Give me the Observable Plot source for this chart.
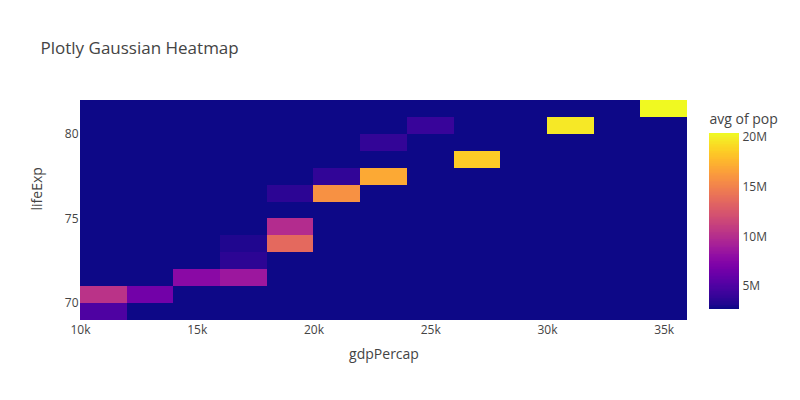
<!DOCTYPE html>
<html>
<head>
<meta charset="utf-8">
<script src="https://cdn.jsdelivr.net/npm/d3@7"></script>
<script src="https://cdn.jsdelivr.net/npm/@observablehq/plot@0.6"></script>
<style>
  body { margin: 0; background: #fff; }
  #wrap { position: relative; width: 800px; height: 400px; font-family: 'Open Sans', sans-serif; }
  #bar { position: absolute; left: 700px; top: 0; }
</style>
</head>
<body>
<div id="wrap"></div>
<script>
// gdpPercap bin edges (14 edges -> 13 bins)
const gdpEdges = [10000, 12000, 14000, 16000, 18000, 20000, 22000, 24000, 26000, 28000, 30000, 32000, 34000, 36000];
// lifeExp bin edges (14 edges -> 13 bins)
const lifeEdges = [69, 70, 71, 72, 73, 74, 75, 76, 77, 78, 79, 80, 81, 82];
// avg of pop (millions); rows = lifeExp bins bottom->top, columns = gdpPercap bins left->right
const avgPopM = [
  [5.0, 2.7, 2.7, 2.7, 2.7, 2.7, 2.7, 2.7, 2.7, 2.7, 2.7, 2.7, 2.7],   // 69-70
  [10.3, 6.6, 2.7, 2.7, 2.7, 2.7, 2.7, 2.7, 2.7, 2.7, 2.7, 2.7, 2.7],  // 70-71
  [2.7, 2.7, 7.7, 8.6, 2.7, 2.7, 2.7, 2.7, 2.7, 2.7, 2.7, 2.7, 2.7],   // 71-72
  [2.7, 2.7, 2.7, 3.6, 2.7, 2.7, 2.7, 2.7, 2.7, 2.7, 2.7, 2.7, 2.7],   // 72-73
  [2.7, 2.7, 2.7, 3.2, 13.6, 2.7, 2.7, 2.7, 2.7, 2.7, 2.7, 2.7, 2.7],  // 73-74
  [2.7, 2.7, 2.7, 2.7, 9.9, 2.7, 2.7, 2.7, 2.7, 2.7, 2.7, 2.7, 2.7],   // 74-75
  [2.7, 2.7, 2.7, 2.7, 2.7, 2.7, 2.7, 2.7, 2.7, 2.7, 2.7, 2.7, 2.7],   // 75-76
  [2.7, 2.7, 2.7, 2.7, 3.6, 15.8, 2.7, 2.7, 2.7, 2.7, 2.7, 2.7, 2.7],  // 76-77
  [2.7, 2.7, 2.7, 2.7, 2.7, 3.8, 17.0, 2.7, 2.7, 2.7, 2.7, 2.7, 2.7],  // 77-78
  [2.7, 2.7, 2.7, 2.7, 2.7, 2.7, 2.7, 2.7, 18.5, 2.7, 2.7, 2.7, 2.7],  // 78-79
  [2.7, 2.7, 2.7, 2.7, 2.7, 2.7, 3.9, 2.7, 2.7, 2.7, 2.7, 2.7, 2.7],   // 79-80
  [2.7, 2.7, 2.7, 2.7, 2.7, 2.7, 2.7, 4.1, 2.7, 2.7, 19.7, 2.7, 2.7],  // 80-81
  [2.7, 2.7, 2.7, 2.7, 2.7, 2.7, 2.7, 2.7, 2.7, 2.7, 2.7, 2.7, 20.4]   // 81-82
];
const xTicks = [10000, 15000, 20000, 25000, 30000, 35000];
const yTicks = [70, 75, 80];
const colorTicks = [5, 10, 15, 20];
const colorDomain = [2.68, 20.4];

const cells = [];
avgPopM.forEach((row, i) => row.forEach((v, j) => {
  cells.push({x1: gdpEdges[j], x2: gdpEdges[j + 1], y1: lifeEdges[i], y2: lifeEdges[i + 1], pop: v});
}));

const ink = "#444";
const chart = Plot.plot({
  width: 800, height: 400,
  marginLeft: 80, marginRight: 113, marginTop: 100, marginBottom: 80,
  style: {fontFamily: "'Open Sans', sans-serif", fontSize: "12px", color: ink, background: "white", overflow: "visible"},
  x: {domain: [gdpEdges[0], gdpEdges[gdpEdges.length - 1]]},
  y: {domain: [lifeEdges[0], lifeEdges[lifeEdges.length - 1]]},
  color: {type: "linear", scheme: "plasma", domain: colorDomain},
  marks: [
    Plot.rect(cells, {x1: "x1", x2: "x2", y1: "y1", y2: "y2", fill: "pop", shapeRendering: "crispEdges"}),
    Plot.axisX({ticks: xTicks, tickFormat: d => d / 1000 + "k", tickSize: 0, tickPadding: 5, label: null, fontSize: 12, fill: ink}),
    Plot.axisY({ticks: yTicks, tickSize: 0, tickPadding: 2, label: null, fontSize: 12, fill: ink}),
    Plot.text(["gdpPercap"], {text: d => d, frameAnchor: "bottom", dy: 38, fontSize: 14, fill: ink}),
    Plot.text(["lifeExp"], {text: d => d, frameAnchor: "left", dx: -43, rotate: -90, fontSize: 14, fill: ink}),
    Plot.text(["Plotly Gaussian Heatmap"], {text: d => d, frameAnchor: "top-left", dx: -40, dy: -59, textAnchor: "start", fontSize: 17, fill: ink})
  ]
});
document.getElementById("wrap").appendChild(chart);

// vertical colorbar
const steps = d3.range(0, 200).map(k => {
  const a = colorDomain[0] + (colorDomain[1] - colorDomain[0]) * k / 200;
  const b = colorDomain[0] + (colorDomain[1] - colorDomain[0]) * (k + 1) / 200;
  return {a, b, m: (a + b) / 2};
});
const bar = Plot.plot({
  width: 100, height: 400,
  marginLeft: 9, marginRight: 61, marginTop: 133, marginBottom: 91,
  style: {fontFamily: "'Open Sans', sans-serif", fontSize: "12px", color: ink, background: "transparent", overflow: "visible"},
  x: {domain: [0, 1], axis: null},
  y: {domain: colorDomain},
  color: {type: "linear", scheme: "plasma", domain: colorDomain},
  marks: [
    Plot.rect(steps, {x1: 0, x2: 1, y1: "a", y2: "b", fill: "m", shapeRendering: "crispEdges"}),
    Plot.axisY({anchor: "right", ticks: colorTicks, tickFormat: d => d + "M", tickSize: 0, tickPadding: 3, label: null, fontSize: 12, fill: ink}),
    Plot.text(["avg of pop"], {text: d => d, frameAnchor: "top-left", dy: -19, textAnchor: "start", fontSize: 14, fill: ink})
  ]
});
bar.id = "bar";
document.getElementById("wrap").appendChild(bar);
</script>
</body>
</html>
